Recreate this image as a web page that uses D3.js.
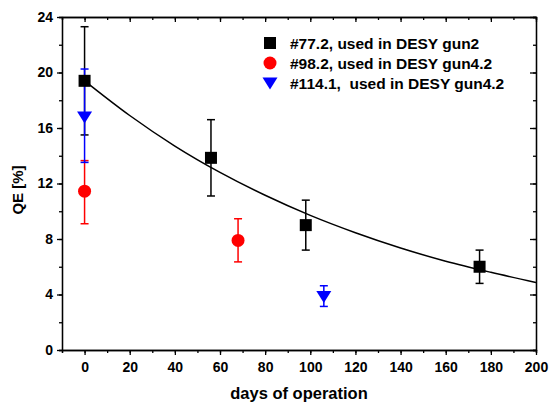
<!DOCTYPE html>
<head>
  <meta charset="utf-8">
  <title>QE vs days of operation</title>
  <script src="https://d3js.org/d3.v7.min.js"></script>
  <style>
    body { margin: 0px; background: white; }
    text { font-family: "Liberation Sans", Arial, sans-serif; font-weight: bold; fill: black; }
    .axis path, .axis line { stroke: black; stroke-width: 1.3; }
    .axis text { font-size: 14px; }
  </style>
</head>
<body>
  <svg width="550" height="403"></svg>
  <script>
    // cathode #77.2 (DESY gun2)
    var days772 = [0, 56, 98, 175];
    var qe772 = [19.4, 13.85, 9.0, 6.0];
    var lo772 = [15.5, 11.1, 7.2, 4.8];
    var hi772 = [23.3, 16.6, 10.8, 7.2];
    // cathode #98.2 (DESY gun4.2)
    var days982 = [0, 68];
    var qe982 = [11.45, 7.9];
    var lo982 = [9.1, 6.35];
    var hi982 = [13.65, 9.46];
    // cathode #114.1 (DESY gun4.2)
    var days1141 = [0, 106];
    var qe1141 = [16.8, 3.86];
    var lo1141 = [13.52, 3.14];
    var hi1141 = [20.25, 4.63];
    // decay fit curve
    var fitDays = [0, 20, 40, 60, 80, 100, 120, 140, 160, 180, 200];
    var fitQE = [19.4, 16.9, 14.7, 12.8, 11.15, 9.7, 8.45, 7.35, 6.4, 5.6, 4.87];

    var xTicks = [0, 20, 40, 60, 80, 100, 120, 140, 160, 180, 200];
    var yTicks = [0, 4, 8, 12, 16, 20, 24];
    var legendLabels = ["#77.2, used in DESY gun2", "#98.2, used in DESY gun4.2", "#114.1,\u00a0 used in DESY gun4.2"];

    var svg = d3.select("svg");
    var margin = { "top": 17, "bottom": 53, "left": 62, "right": 14 };
    var plot = {
      "width": svg.attr("width") - margin.left - margin.right,
      "height": svg.attr("height") - margin.top - margin.bottom
    };

    var x = d3.scaleLinear().domain([-10, 200]).range([0, plot.width]);
    var y = d3.scaleLinear().domain([0, 24]).range([plot.height, 0]);

    var g = svg.append("g").attr("transform", translate(margin.left, margin.top));

    function series(days, qe, lo, hi) {
      return days.map(function(d, i) { return { d: d, v: qe[i], lo: lo[i], hi: hi[i] }; });
    }
    var sets = [
      { color: "black", shape: "square", data: series(days772, qe772, lo772, hi772) },
      { color: "#ff0000", shape: "circle", data: series(days982, qe982, lo982, hi982) },
      { color: "#0000ff", shape: "triangle", data: series(days1141, qe1141, lo1141, hi1141) }
    ];

    // minor ticks
    var minorX = d3.range(-10, 201, 10);
    var minorY = d3.range(0, 25, 2);
    g.append("g").attr("class", "axis").attr("transform", translate(0, plot.height))
      .call(d3.axisBottom(x).tickValues(minorX).tickSize(3).tickFormat(""));
    g.append("g").attr("class", "axis")
      .call(d3.axisLeft(y).tickValues(minorY).tickSize(3).tickFormat(""));
    g.append("g").attr("class", "axis")
      .call(d3.axisBottom(x).tickValues(minorX).tickSize(3).tickFormat(""));
    g.append("g").attr("class", "axis").attr("transform", translate(plot.width, 0))
      .call(d3.axisLeft(y).tickValues(minorY).tickSize(3).tickFormat(""));

    // major ticks
    g.append("g").attr("class", "axis").attr("transform", translate(0, plot.height))
      .call(d3.axisBottom(x).tickValues(xTicks).tickSize(5).tickSizeOuter(0).tickPadding(4))
      .selectAll("text").attr("dy", "0.9em");
    g.append("g").attr("class", "axis")
      .call(d3.axisLeft(y).tickValues(yTicks).tickSize(5).tickSizeOuter(0).tickPadding(4));
    g.append("g").attr("class", "axis")
      .call(d3.axisBottom(x).tickValues(xTicks).tickSize(5).tickSizeOuter(0).tickFormat(""));
    g.append("g").attr("class", "axis").attr("transform", translate(plot.width, 0))
      .call(d3.axisLeft(y).tickValues(yTicks).tickSize(6).tickSizeOuter(0).tickFormat(""));

    // fit curve
    var line = d3.line()
      .x(function(d, i) { return x(d); })
      .y(function(d, i) { return y(fitQE[i]); })
      .curve(d3.curveMonotoneX);
    g.append("path")
      .attr("d", line(fitDays))
      .attr("fill", "none")
      .attr("stroke", "black")
      .attr("stroke-width", 1.5);

    // error bars
    var cap = 4;
    sets.forEach(function(s) {
      var eb = g.append("g").attr("stroke", s.color).attr("stroke-width", 1.5);
      s.data.forEach(function(p) {
        eb.append("line").attr("x1", x(p.d)).attr("x2", x(p.d)).attr("y1", y(p.lo)).attr("y2", y(p.hi));
        eb.append("line").attr("x1", x(p.d) - cap).attr("x2", x(p.d) + cap).attr("y1", y(p.lo)).attr("y2", y(p.lo));
        eb.append("line").attr("x1", x(p.d) - cap).attr("x2", x(p.d) + cap).attr("y1", y(p.hi)).attr("y2", y(p.hi));
      });
    });

    // markers
    function marker(sel, shape, color, cx, cy) {
      if (shape == "square") {
        sel.append("rect").attr("x", cx - 6).attr("y", cy - 6).attr("width", 12).attr("height", 12).attr("fill", color);
      } else if (shape == "circle") {
        sel.append("circle").attr("cx", cx).attr("cy", cy).attr("r", 6.5).attr("fill", color);
      } else {
        sel.append("path")
          .attr("d", "M" + (cx - 7.5) + "," + (cy - 5.5) + "L" + (cx + 7.5) + "," + (cy - 5.5) + "L" + cx + "," + (cy + 6.5) + "Z")
          .attr("fill", color);
      }
    }
    sets.forEach(function(s) {
      s.data.forEach(function(p) { marker(g, s.shape, s.color, x(p.d), y(p.v)); });
    });

    // legend
    var legend = svg.append("g").attr("transform", translate(270, 43));
    sets.forEach(function(s, i) {
      marker(legend, s.shape, s.color, 0, i * 20);
      legend.append("text")
        .attr("x", 20)
        .attr("y", i * 20)
        .attr("dy", "0.36em")
        .style("font-size", "15.5px")
        .text(legendLabels[i]);
    });

    // axis titles
    svg.append("text")
      .attr("x", margin.left + plot.width / 2)
      .attr("y", 399)
      .attr("text-anchor", "middle")
      .style("font-size", "16.5px")
      .text("days of operation");
    svg.append("text")
      .attr("transform", translate(23, 190) + " rotate(-90)")
      .attr("text-anchor", "middle")
      .style("font-size", "15px")
      .text("QE [%]");

    function translate(x, y) {
      return "translate(" + String(x) + "," + String(y) + ")";
    }
  </script>
</body>
</html>
